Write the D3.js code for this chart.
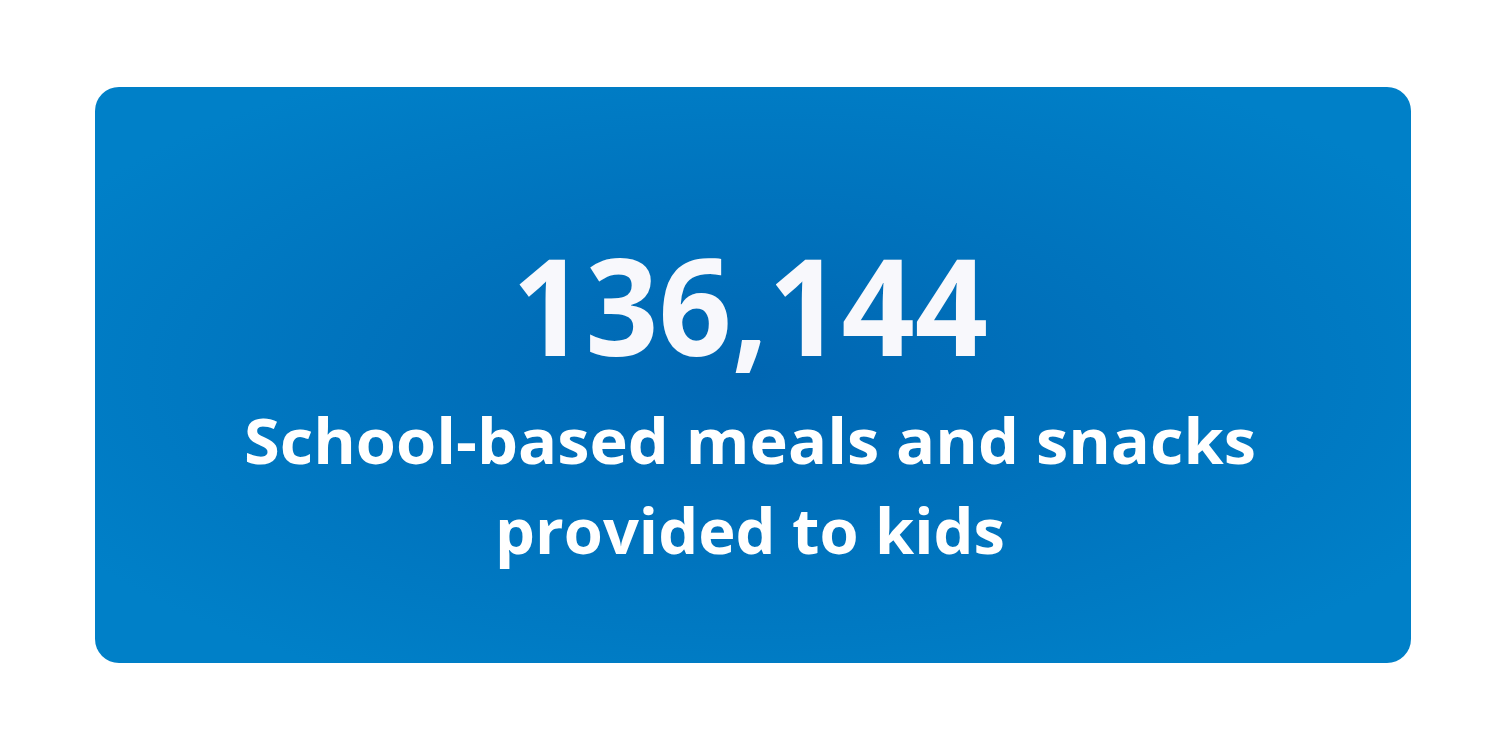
<!DOCTYPE html>
<html><head><meta charset="utf-8">
<script src="https://cdn.jsdelivr.net/npm/d3@7"></script>
<style>body{margin:0;background:#fff}</style></head>
<body><svg id="c" width="1500" height="750"></svg>
<script>
const values = [136144];
const labels = ["School-based meals and snacks", "provided to kids"];
const svg = d3.select("#c");
const defs = svg.append("defs");
const g = defs.append("radialGradient").attr("id","bg").attr("cx","50%").attr("cy","50%").attr("r","60%");
g.append("stop").attr("offset","0%").attr("stop-color","#0066b2");
g.append("stop").attr("offset","100%").attr("stop-color","#0080c8");
svg.append("rect").attr("x",95).attr("y",87).attr("width",1316).attr("height",576).attr("rx",24).attr("fill","url(#bg)");
const fmt = d3.format(",");
svg.append("text").attr("x",750).attr("y",356).attr("text-anchor","middle")
  .attr("font-family","'Open Sans', sans-serif").attr("font-weight",700).attr("font-size",134)
  .attr("textLength",476).attr("lengthAdjust","spacingAndGlyphs")
  .attr("fill","#f8f8fc").text(fmt(values[0]));
svg.selectAll("text.l").data(labels).join("text").attr("class","l")
  .attr("x",750).attr("y",(d,i)=>464+i*90).attr("text-anchor","middle")
  .attr("font-family","'Open Sans', sans-serif").attr("font-weight",700).attr("font-size",62)
  .attr("textLength",(d,i)=>i===0?1012:510).attr("lengthAdjust","spacingAndGlyphs")
  .attr("fill","#ffffff").text(d=>d);
</script></body></html>
